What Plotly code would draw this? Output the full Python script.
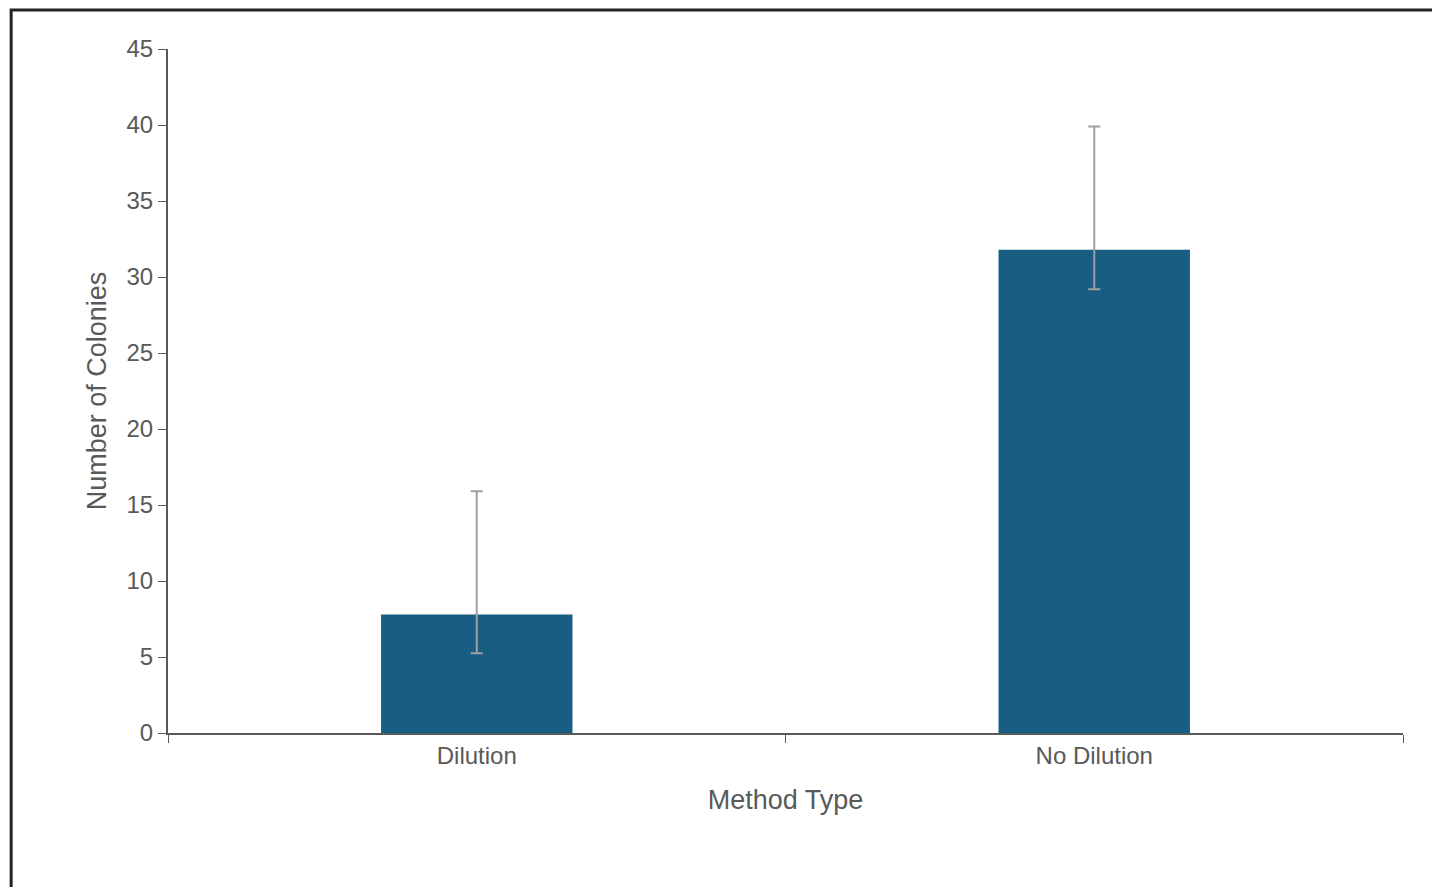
import plotly.graph_objects as go

# Data
methods = ["Dilution", "No Dilution"]
colonies = [7.8, 31.8]
err_plus = [8.1, 8.1]
err_minus = [2.55, 2.6]

fig = go.Figure()
fig.add_trace(go.Bar(
    x=methods, y=colonies, width=0.31,
    marker=dict(color="#175e82", line=dict(width=0)),
    error_y=dict(type="data", symmetric=False, array=err_plus, arrayminus=err_minus,
                 color="#a0a0a0", thickness=2, width=6),
))

axis_font = dict(family="Liberation Sans, Arial", size=24, color="#595959")
fig.update_layout(
    width=1440, height=887,
    paper_bgcolor="white", plot_bgcolor="white",
    margin=dict(l=160, r=45, t=41, b=162),
    font=axis_font,
    showlegend=False,
    xaxis=dict(
        title=dict(text="Method Type", font=dict(size=27, color="#595959"), standoff=22),
        tickson="boundaries", ticks="outside", ticklen=8, tickcolor="#595959",
        showline=True, linecolor="#595959", linewidth=2, showgrid=False,
        tickfont=dict(size=24, color="#595959"),
    ),
    yaxis=dict(
        title=dict(text="Number of Colonies", font=dict(size=27, color="#595959"), standoff=12),
        range=[0, 45], dtick=5, ticks="outside", ticklen=8, tickcolor="#595959",
        showline=True, linecolor="#595959", linewidth=2, showgrid=False, zeroline=False,
        tickfont=dict(size=24, color="#595959"),
    ),
    shapes=[dict(type="rect", xref="paper", yref="paper", x0=-0.127, x1=1.035, y0=-0.236, y1=1.057,
                 line=dict(color="#222222", width=3))],
)

fig.write_html("out.html")
